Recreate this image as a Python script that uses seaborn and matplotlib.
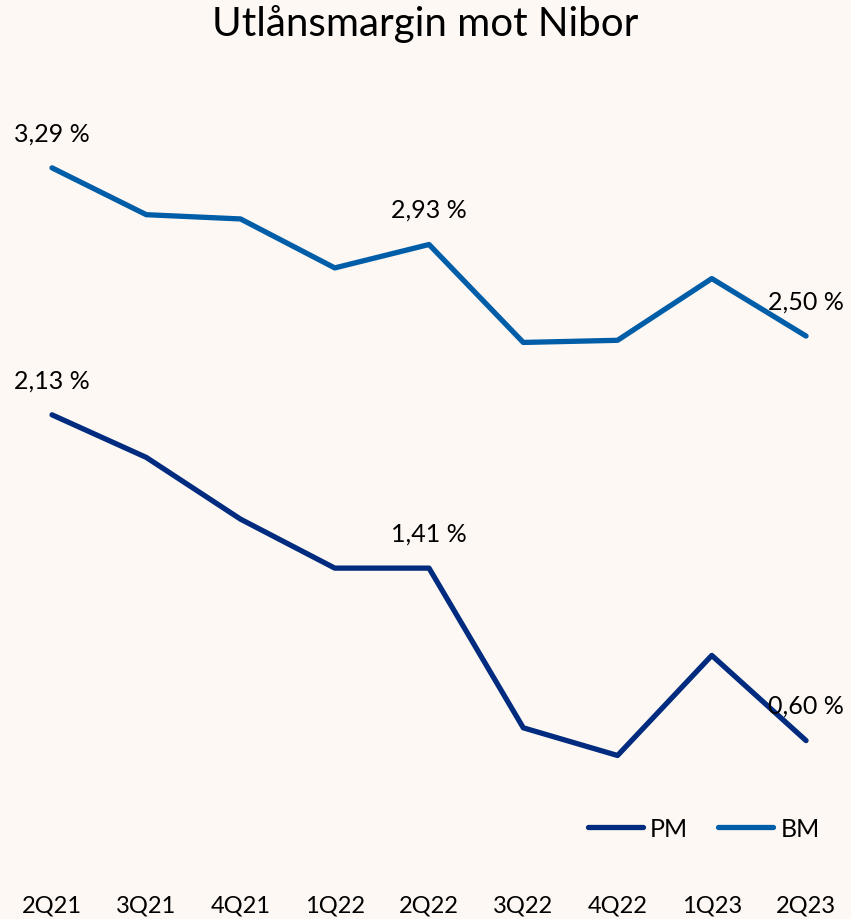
import seaborn as sns
import pandas as pd
import matplotlib.pyplot as plt

quarters = ['2Q21', '3Q21', '4Q21', '1Q22', '2Q22', '3Q22', '4Q22', '1Q23', '2Q23']
pm = [2.13, 1.93, 1.64, 1.41, 1.41, 0.66, 0.53, 1.00, 0.60]
bm = [3.29, 3.07, 3.05, 2.82, 2.93, 2.47, 2.48, 2.77, 2.50]
labelled = [0, 4, 8]

df = pd.DataFrame({
    'kvartal': quarters * 2,
    'x': list(range(len(quarters))) * 2,
    'margin': pm + bm,
    'serie': ['PM'] * len(pm) + ['BM'] * len(bm),
})

bg = '#FDF8F4'
sns.set_theme(style='white', rc={'axes.facecolor': bg, 'figure.facecolor': bg,
                                 'text.color': 'black', 'xtick.color': 'black'})
plt.rcParams['font.family'] = ['Lato', 'DejaVu Sans']

fig = plt.figure(figsize=(8.51, 9.2), dpi=100)
ax = fig.add_axes([0, 0.0435, 1, 0.891])

sns.lineplot(data=df, x='x', y='margin', hue='serie',
             palette={'PM': '#002B7F', 'BM': '#005DA8'},
             linewidth=3.8, ax=ax, solid_capstyle='round')

for vals in (pm, bm):
    for i in labelled:
        ax.annotate(f'{vals[i]:.2f} %'.replace('.', ','), (i, vals[i]),
                    xytext=(0, 17), textcoords='offset points',
                    ha='center', va='bottom', fontsize=18, color='black')

ax.set_xlim(-0.552, 8.477)
ax.set_ylim(-0.05, 3.80)
ax.set_xticks(range(len(quarters)))
ax.set_xticklabels(quarters, fontsize=17)
ax.tick_params(axis='x', length=0, pad=11)
ax.set_yticks([])
ax.set_xlabel('')
ax.set_ylabel('')
for s in ax.spines.values():
    s.set_visible(False)

leg = ax.legend(loc='center right', bbox_to_anchor=(0.99, 0.062), ncol=2,
                frameon=False, fontsize=18, handlelength=2.2,
                columnspacing=1.2, handletextpad=0.3)
for h in leg.get_lines():
    h.set_linewidth(3.8)

fig.suptitle('Utlånsmargin mot Nibor', fontsize=29, y=0.995, va='top')
fig.savefig('out.png', dpi=100, facecolor=bg)
